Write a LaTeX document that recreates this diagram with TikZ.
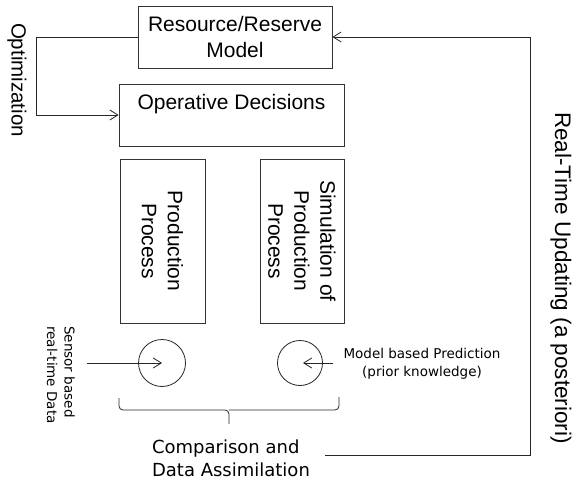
\documentclass[tikz,border=0pt]{standalone}
\usepackage{fontspec}
\setmainfont{Liberation Sans}
\newfontfamily\labelfont{DejaVu Sans}
\usetikzlibrary{arrows.meta}

\begin{document}
\begin{tikzpicture}[x=1pt, y=1pt, >={Straight Barb[length=8pt, width=10pt]}]
  \tikzstyle{block}=[draw=black!80, line width=0.8pt, align=center, inner sep=0pt, font=\fontsize{21}{26}\selectfont]
  \tikzstyle{flow}=[draw=black!85, line width=0.8pt]
  \tikzstyle{sum}=[circle, draw=black!85, line width=0.8pt, inner sep=0pt]
  \tikzstyle{small}=[align=center, font=\labelfont\fontsize{13.5}{17.5}\selectfont]

  \useasboundingbox (0,0) rectangle (576,483);

  \node[block, minimum width=194pt, minimum height=62pt] (res)  at (235,   446) {Resource/Reserve\\Model};
  \node[block, minimum width=225pt, minimum height=62pt] (ops)  at (231.5, 368) {Operative Decisions\\\mbox{}};
  \node[block, rotate=-90, minimum width=164pt, minimum height=85pt] (prod) at (162.5, 242) {Production\\Process};
  \node[block, rotate=-90, minimum width=164pt, minimum height=84pt] (sim)  at (302,   242) {Simulation of\\Production\\Process};

  \node[sum, minimum size=47pt] (c1) at (162, 120) {};
  \node[sum, minimum size=45pt] (c2) at (300, 120) {};

  \node[rotate=-90, font=\fontsize{20.5}{24}\selectfont] (opt) at (17,  403) {Optimization};
  \node[rotate=-90, font=\fontsize{22.5}{26}\selectfont] (upd) at (561, 205) {Real-Time Updating (a posteriori)};
  \node[small, rotate=-90, align=left] (sensor) at (61,  108) {Sensor based\\real-time Data};
  \node[small]                         (pred)   at (422, 119) {Model based Prediction\\(prior knowledge)};
  \node[align=left, font=\labelfont\fontsize{18}{23}\selectfont] (cmp) at (231, 25) {Comparison and\\Data Assimilation};

  \coordinate (turn) at (530, 446);

  \draw[flow, ->] (res.west) -- ++(-101,0) |- (ops.west);
  \draw[flow, ->] ([xshift=12pt, yshift=3pt]cmp.east) -| (turn) -- (res.east);
  \draw[flow, ->] ([xshift=8pt]sensor.north |- c1) -- (c1.center);
  \draw[flow, ->] ([xshift=-7pt]pred.west |- c2) -- ([xshift=3pt]c2.center);

  % brace under the two process boxes
  \draw[flow, rounded corners=4pt] (119, 85) |- (229, 73) -- (229, 59);
  \draw[flow, rounded corners=4pt] (339, 86) |- (229, 73);

\end{tikzpicture}
\end{document}
